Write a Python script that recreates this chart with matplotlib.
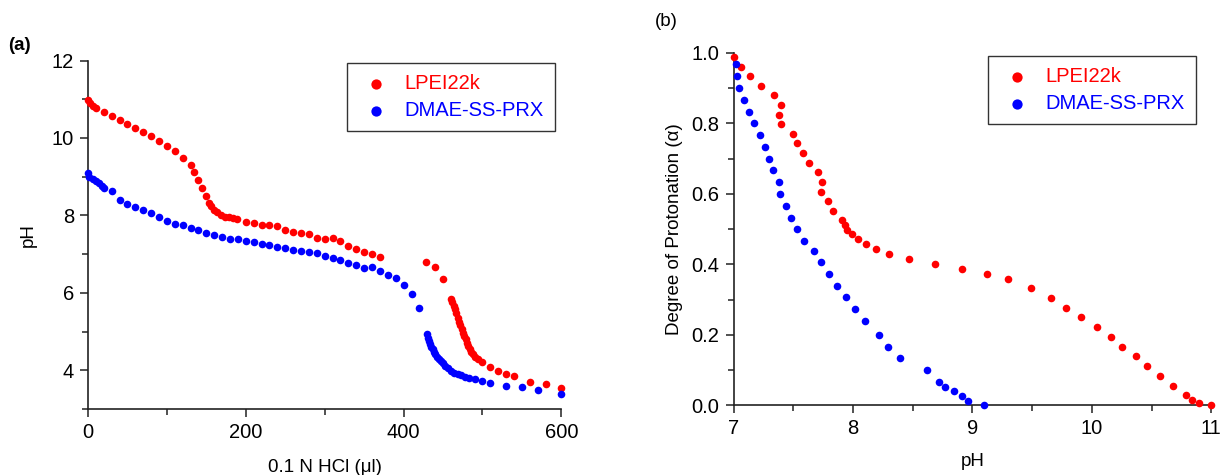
import matplotlib
matplotlib.use("Agg")
import matplotlib.pyplot as plt
from matplotlib.ticker import MultipleLocator, FormatStrFormatter

plt.rcParams['font.family'] = ['Liberation Sans', 'DejaVu Sans']

# ---- Panel (a): titration curves ----
a_lpei_x = [0, 2.5, 6, 10, 20, 30, 40, 50, 60, 70, 80, 90, 100, 110, 120, 130,
            135, 140, 145, 150, 154, 156, 160, 164, 169, 174, 179, 184, 189,
            200, 210, 220, 230, 240, 250, 260, 270, 280, 290, 300, 310, 320,
            330, 340, 350, 360, 370,
            429, 440, 450, 460, 462, 464, 465, 467, 469, 470, 472, 474, 475,
            477, 479, 480, 482, 484, 486, 488, 491, 495, 500, 510, 520, 530,
            540, 560, 580, 600]
a_lpei_y = [10.98, 10.90, 10.83, 10.78, 10.68, 10.57, 10.46, 10.36, 10.25, 10.16,
            10.04, 9.92, 9.78, 9.66, 9.49, 9.30, 9.12, 8.92, 8.70, 8.49, 8.32,
            8.23, 8.15, 8.08, 8.02, 7.97, 7.95, 7.92, 7.91, 7.84, 7.80, 7.74,
            7.74, 7.72, 7.63, 7.58, 7.55, 7.53, 7.41, 7.39, 7.42, 7.35, 7.22,
            7.13, 7.06, 7.01, 6.93,
            6.79, 6.68, 6.36, 5.85, 5.76, 5.67, 5.57, 5.47, 5.36, 5.24, 5.16,
            5.07, 4.97, 4.88, 4.80, 4.71, 4.62, 4.54, 4.47, 4.41, 4.33, 4.28,
            4.21, 4.08, 3.98, 3.90, 3.84, 3.71, 3.64, 3.55]

a_dmae_x = [0, 1.7, 6, 10, 14, 18, 20, 30, 40, 50, 60, 70, 80, 90, 100, 110,
            120, 130, 140, 150, 160, 170, 180, 190, 200, 210, 220, 230, 240,
            250, 260, 270, 280, 290, 300, 311, 320, 330, 340, 350, 360, 370,
            380, 390, 401, 411, 420,
            430, 431, 432, 434, 435, 437, 439, 440, 442, 445, 447, 450, 453,
            456, 460, 464, 469, 473, 478, 483, 490, 500, 510, 530, 550, 570, 600]
a_dmae_y = [9.09, 8.99, 8.95, 8.89, 8.83, 8.77, 8.72, 8.63, 8.40, 8.30, 8.22,
            8.13, 8.05, 7.96, 7.86, 7.79, 7.74, 7.67, 7.61, 7.55, 7.49, 7.45,
            7.40, 7.40, 7.35, 7.31, 7.27, 7.23, 7.18, 7.15, 7.11, 7.07, 7.05,
            7.03, 6.96, 6.91, 6.84, 6.76, 6.71, 6.64, 6.67, 6.57, 6.45, 6.38,
            6.19, 5.96, 5.61,
            4.93, 4.84, 4.75, 4.67, 4.61, 4.54, 4.47, 4.41, 4.35, 4.30, 4.24,
            4.18, 4.11, 4.05, 3.99, 3.94, 3.90, 3.87, 3.83, 3.81, 3.77, 3.72,
            3.68, 3.60, 3.58, 3.49, 3.40]

# ---- Panel (b): degree of protonation ----
b_lpei_ph = [7.00, 7.06, 7.14, 7.23, 7.34, 7.40, 7.38, 7.40, 7.50, 7.53, 7.58,
             7.63, 7.71, 7.74, 7.73, 7.79, 7.83, 7.91, 7.93, 7.95, 7.99, 8.04,
             8.11, 8.19, 8.30, 8.47, 8.69, 8.91, 9.12, 9.30, 9.49, 9.66, 9.78,
             9.91, 10.04, 10.16, 10.25, 10.37, 10.46, 10.57, 10.68, 10.79,
             10.84, 10.90, 11.00]
b_lpei_alpha = [0.989, 0.961, 0.934, 0.907, 0.879, 0.852, 0.824, 0.797, 0.771,
                0.743, 0.716, 0.688, 0.661, 0.633, 0.606, 0.580, 0.552, 0.526,
                0.511, 0.497, 0.485, 0.471, 0.457, 0.444, 0.428, 0.414, 0.401,
                0.387, 0.373, 0.359, 0.332, 0.304, 0.277, 0.250, 0.221, 0.194,
                0.166, 0.139, 0.111, 0.083, 0.056, 0.028, 0.014, 0.007, 0.001]

b_dmae_ph = [7.02, 7.03, 7.05, 7.09, 7.13, 7.17, 7.22, 7.26, 7.30, 7.33, 7.38,
             7.39, 7.44, 7.48, 7.53, 7.59, 7.67, 7.73, 7.80, 7.87, 7.94, 8.02,
             8.10, 8.22, 8.29, 8.39, 8.62, 8.72, 8.77, 8.85, 8.91, 8.96, 9.10]
b_dmae_alpha = [0.967, 0.934, 0.900, 0.866, 0.833, 0.800, 0.767, 0.733, 0.700,
                0.667, 0.633, 0.600, 0.566, 0.532, 0.499, 0.467, 0.439, 0.406,
                0.372, 0.339, 0.306, 0.272, 0.239, 0.199, 0.166, 0.133, 0.100,
                0.066, 0.053, 0.040, 0.026, 0.013, 0.001]

labels = ['LPEI22k', 'DMAE-SS-PRX']
colors = ['#ff0000', '#0000ff']

W, H = 1223, 475
fig = plt.figure(figsize=(W / 100, H / 100), dpi=100)

def px_axes(l, r, t, b):
    return fig.add_axes([l / W, (H - b) / H, (r - l) / W, (b - t) / H])

ax1 = px_axes(88, 561.3, 60.5, 409)
ax2 = px_axes(733.5, 1211.3, 52.8, 405.3)

TICK_FS = 14.5
LAB_FS = 13.5
LEG_FS = 14.5
ms = 30

def style(ax):
    for s in ['top', 'right']:
        ax.spines[s].set_visible(False)
    for s in ['left', 'bottom']:
        ax.spines[s].set_linewidth(1.2)
        ax.spines[s].set_color('#222222')
    ax.tick_params(which='major', direction='out', length=6, width=1.1,
                   labelsize=TICK_FS, color='#222222', pad=4)
    ax.tick_params(which='minor', direction='out', length=4, width=1.1,
                   color='#222222')

ax1.scatter(a_lpei_x, a_lpei_y, s=ms, color=colors[0], label=labels[0],
            linewidths=0, clip_on=False, zorder=3)
ax1.scatter(a_dmae_x, a_dmae_y, s=ms, color=colors[1], label=labels[1],
            linewidths=0, clip_on=False, zorder=3)
ax1.set_xlim(0, 600)
ax1.set_ylim(3, 12)
ax1.xaxis.set_major_locator(MultipleLocator(200))
ax1.xaxis.set_minor_locator(MultipleLocator(100))
ax1.yaxis.set_minor_locator(MultipleLocator(1))
ax1.set_yticks([4, 6, 8, 10, 12])
style(ax1)
ax1.set_xlabel('0.1 N HCl (\u03bcl)', fontsize=LAB_FS, labelpad=12)
ax1.set_ylabel('pH', fontsize=LAB_FS, labelpad=11)

ax2.scatter(b_lpei_ph, b_lpei_alpha, s=ms, color=colors[0], label=labels[0],
            linewidths=0, clip_on=False, zorder=3)
ax2.scatter(b_dmae_ph, b_dmae_alpha, s=ms, color=colors[1], label=labels[1],
            linewidths=0, clip_on=False, zorder=3)
ax2.set_xlim(7, 11)
ax2.set_ylim(0, 1.0)
ax2.xaxis.set_major_locator(MultipleLocator(1))
ax2.xaxis.set_minor_locator(MultipleLocator(0.5))
ax2.yaxis.set_major_locator(MultipleLocator(0.2))
ax2.yaxis.set_minor_locator(MultipleLocator(0.1))
ax2.yaxis.set_major_formatter(FormatStrFormatter('%.1f'))
style(ax2)
ax2.set_xlabel('pH', fontsize=LAB_FS, labelpad=11)
ax2.set_ylabel('Degree of Protonation (\u03b1)', fontsize=LAB_FS, labelpad=6)

def make_legend(ax, x0, y0):
    leg = ax.legend(loc='upper left', bbox_to_anchor=(x0, y0),
                    borderaxespad=0, fontsize=LEG_FS, frameon=True,
                    fancybox=False, edgecolor='black', handletextpad=0.5,
                    borderpad=0.55, labelspacing=0.4, handlelength=1.8,
                    scatterpoints=1, markerscale=1.35)
    leg.get_frame().set_linewidth(1.0)
    for t, c in zip(leg.get_texts(), colors):
        t.set_color(c)
    return leg

make_legend(ax1, (347 - 88) / 473.3, (409 - 63) / 348.5)
make_legend(ax2, (988 - 733.5) / 477.8, (405.3 - 56) / 352.5)

fig.text(8 / W, 1 - 45 / H, '(a)', fontsize=13.5, fontweight='bold', va='center')
fig.text(655 / W, 1 - 22 / H, '(b)', fontsize=13.5, va='center')

fig.savefig('out.png', dpi=100)
